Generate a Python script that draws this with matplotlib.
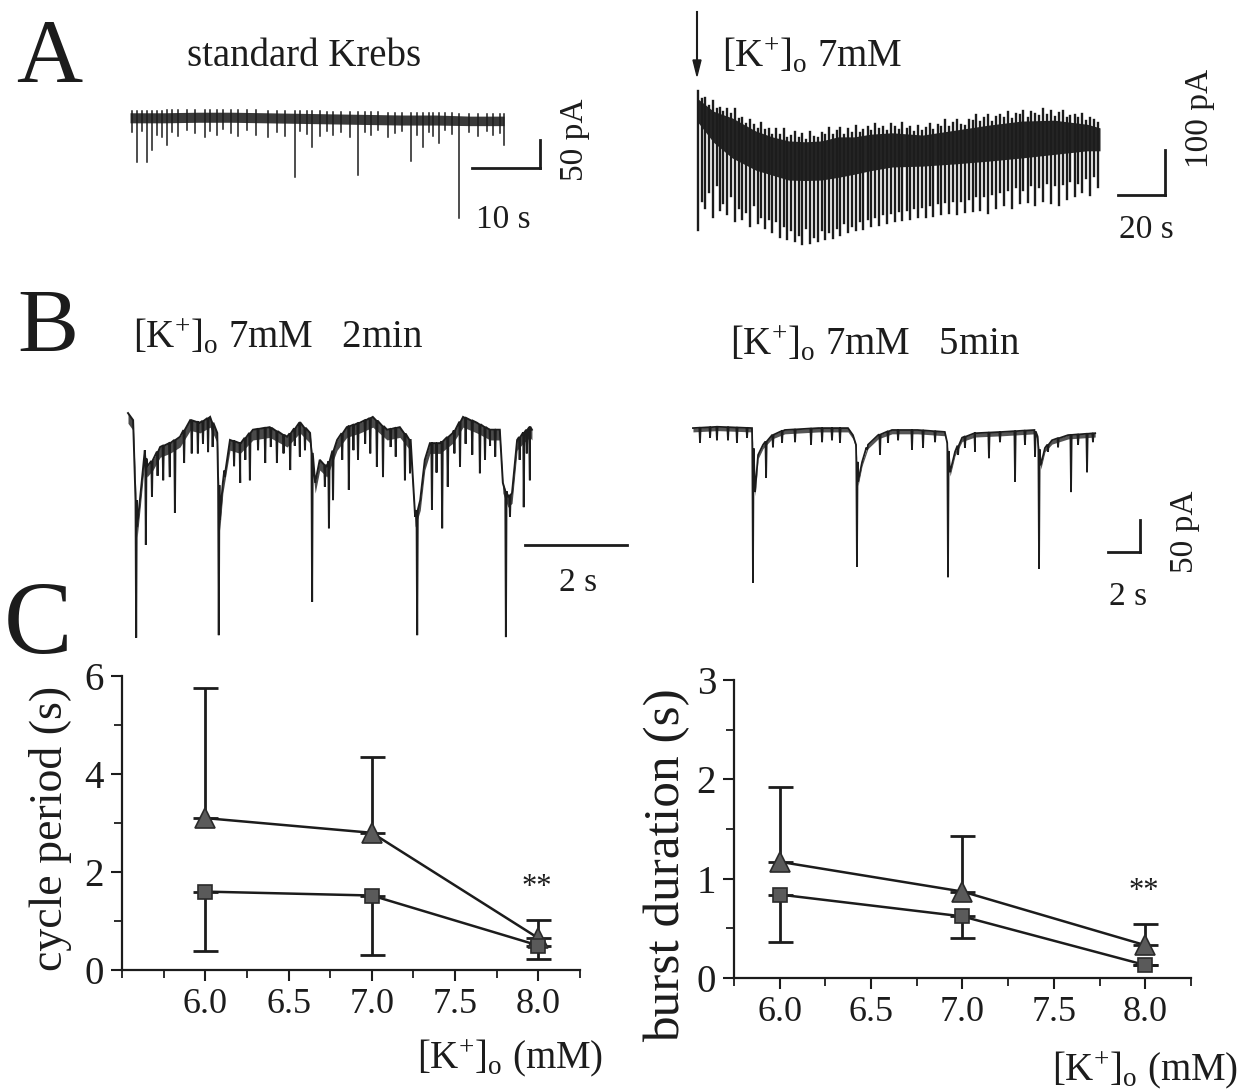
import numpy as np
import matplotlib.pyplot as plt
from matplotlib.ticker import MultipleLocator

plt.rcParams['font.family'] = ['Liberation Serif', 'DejaVu Serif']
plt.rcParams['mathtext.fontset'] = 'custom'
plt.rcParams['mathtext.rm'] = 'Liberation Serif'
plt.rcParams['mathtext.it'] = 'Liberation Serif:italic'

W, H = 1254, 1092
INK = '#1c1c1c'

# ---------------- data ----------------
# A left, standard Krebs: time (s), current (pA)
al_t = [0, 5, 10, 15, 20, 25, 30, 35, 40, 45, 50, 55]
al_top = [4, 4, 5, 5, 4, 3, 2, 1, 0, 0, -2, -2]
al_bot = [-14, -14, -13, -13, -14, -15, -16, -17, -18, -18, -19, -19]
al_ev_t = [0.25, 1.0, 1.72, 2.5, 3.2, 3.92, 4.66, 5.4, 6.13, 7.11, 8.33, 9.56, 11.0,
           11.8, 12.75, 13.7, 14.9, 15.9, 17.2, 18.6, 20.3, 21.6, 22.8, 24.3, 25.0,
           26.0, 26.8, 27.9, 28.9, 29.9, 31.1, 32.4, 33.5, 34.6, 35.5, 36.5, 38.0,
           39.0, 40.0, 41.3, 42.2, 43.1, 43.9, 44.6, 45.4, 46.3, 47.3, 48.4, 49.8,
           51.2, 52.5, 53.4, 54.4, 55.0]
al_ev_d = [-30, -84, -28, -84, -63, -35, -40, -54, -30, -38, -26, -33, -40,
           -28, -36, -25, -32, -38, -27, -35, -40, -30, -37, -111, -29,
           -34, -57, -38, -28, -35, -31, -40, -107, -30, -36, -26, -39,
           -33, -28, -82, -36, -57, -30, -38, -50, -27, -34, -184, -31,
           -37, -29, -35, -33, -54]

# A right, [K+]o 7 mM: slow band envelope and fast events
ar_t = [0, 7, 15, 25, 32, 39, 46, 53, 60, 67, 74, 83, 96, 110, 124, 138, 152, 166, 171.5]
ar_top = [-7, -36, -51, -80, -93, -102, -104, -102, -93, -93, -87, -84, -89, -78, -67,
          -58, -56, -65, -73]
ar_bot = [-58, -105, -140, -167, -178, -189, -190, -189, -183, -176, -168, -160, -158,
          -153, -147, -140, -132, -124, -124]
ar_ev_t = [0.6, 2.1, 3.5, 5.2, 6.6, 8.3, 9.9,
           11.2, 12.8, 14.6, 16.0, 17.9, 19.3,
           21.0, 22.4, 24.1, 25.9, 27.2, 28.8,
           30.5, 32.1, 33.6, 35.4, 36.9, 38.3,
           40.1, 41.6, 43.4, 44.8, 46.5, 48.2, 49.6,
           51.3, 53.0, 54.4, 56.2, 57.7, 59.5,
           61.0, 62.6, 64.4, 65.9, 67.5, 69.3,
           70.8, 72.6, 74.1, 75.8, 77.6, 79.1,
           80.9, 82.4, 84.1, 85.9, 87.4, 89.2,
           90.7, 92.5, 94.0, 95.8, 97.3, 99.1,
           100.6, 102.4, 103.9, 105.7, 107.2, 109.0,
           110.6, 112.3, 113.9, 115.6, 117.3, 118.9,
           120.6, 122.3, 123.9, 125.7, 127.2, 129.0,
           130.6, 132.3, 133.9, 135.6, 137.3, 138.9,
           140.7, 142.2, 144.0, 145.6, 147.3, 148.9,
           150.7, 152.2, 154.0, 155.6, 157.3, 158.9,
           160.7, 162.2, 164.0, 165.5, 167.3, 168.8, 170.6]
ar_ev_d = [-300, -235, -250, -215, -270, -200, -255,
           -240, -265, -225, -280, -250, -275,
           -260, -290, -245, -285, -270, -295,
           -275, -305, -280, -315, -290, -320,
           -300, -325, -310, -330, -295, -328, -315,
           -325, -300, -320, -305, -318, -295,
           -310, -285, -305, -290, -300, -280,
           -298, -275, -292, -270, -288, -265,
           -285, -262, -280, -258, -278, -255,
           -275, -250, -272, -248, -270, -245,
           -268, -240, -265, -238, -262, -235,
           -265, -235, -260, -230, -258, -225,
           -255, -225, -262, -220, -250, -215,
           -245, -212, -250, -205, -240, -210,
           -238, -200, -245, -205, -235, -195,
           -240, -200, -245, -198, -230, -192,
           -225, -195, -215, -185, -222, -180, -205]
# upward noise peaks above the band (pA above its upper edge)
ar_peak = [18, 6, 14, 4, 20, 8, 12,
           5, 16, 9, 22, 6, 13,
           4, 18, 10, 7, 21, 9,
           15, 5, 19, 8, 24, 6,
           12, 20, 7, 16, 4, 22, 10,
           6, 18, 11, 25, 8, 14,
           20, 5, 17, 9, 23, 7,
           12, 18, 6, 21, 10, 15,
           5, 19, 13, 8, 24, 11,
           16, 6, 20, 9, 14, 22,
           7, 18, 12, 25, 8, 16,
           21, 10, 6, 19, 14, 26,
           9, 17, 23, 7, 15, 20,
           11, 24, 8, 18, 13, 22,
           6, 19, 15, 10, 25, 12,
           20, 7, 17, 23, 9, 14,
           18, 11, 22, 8, 16, 13, 10]

# B left, 2 min in 7 mM
bl_t = [0, 0.10, 0.18, 0.24, 0.33, 0.37, 0.49, 0.63, 0.82, 1.02, 1.22, 1.41, 1.61, 1.75,
        1.80, 1.86, 2.00, 2.20, 2.45, 2.78, 3.12, 3.37, 3.57,
        3.67, 3.76, 3.90, 4.10, 4.29, 4.55, 4.80, 5.08, 5.33, 5.53, 5.63,
        5.73, 5.82, 5.92, 6.12, 6.37, 6.57, 6.84, 7.10, 7.29, 7.35,
        7.45, 7.53, 7.63, 7.75, 7.88, 7.92]
bl_v = [3, -8, -175, -128, -55, -81, -70, -50, -44, -34, -8, -12, -3, -28,
        -164, -106, -39, -44, -23, -19, -34, -12, -28,
        -106, -70, -81, -39, -19, -12, -3, -23, -19, -39, -159,
        -133, -70, -44, -44, -28, -3, -12, -23, -23, -106,
        -128, -122, -39, -28, -19, -23]
bl_ev_t = [0.16, 0.35, 0.47, 0.58, 0.69, 0.82, 0.92, 1.10, 1.25, 1.37, 1.47, 1.57, 1.66,
           1.78, 1.90, 2.08, 2.20, 2.30, 2.39, 2.55, 2.69, 2.80, 2.92, 3.05, 3.18,
           3.27, 3.37, 3.47, 3.61, 3.86, 3.94, 4.02, 4.20, 4.33, 4.42, 4.51, 4.65,
           4.75, 4.88, 5.00, 5.15, 5.25, 5.43, 5.53, 5.67, 5.96, 6.05, 6.16, 6.27,
           6.40, 6.51, 6.62, 6.75, 6.90, 7.00, 7.10, 7.20, 7.41, 7.49, 7.68, 7.76,
           7.82, 7.88]
bl_ev_d = [-348, -203, -128, -95, -102, -97, -153, -75, -60, -60, -45, -58, -50,
           -344, -97, -80, -106, -70, -102, -55, -75, -50, -75, -60, -86,
           -48, -65, -55, -292, -112, -177, -133, -70, -117, -55, -70, -45,
           -60, -81, -97, -50, -65, -102, -91, -344, -148, -90, -177, -112,
           -60, -81, -45, -62, -91, -70, -48, -65, -347, -159, -70, -144,
           -60, -102]

# B right, 5 min in 7 mM
br_t = [0.06, 1.6, 3.75, 3.94, 4.13, 4.44, 5.0, 5.8, 7.9, 9.75, 10.06, 10.25,
        10.38, 10.63, 11.0, 11.63, 12.5, 14.1, 15.8, 15.95,
        16.13, 16.44, 16.88, 17.69, 19.4, 21.4, 21.6,
        21.8, 22.06, 22.5, 23.5, 25.2]
br_v = [3, 5, 3, -97, -39, -23, -8, 0, 3, 3, -8, -23,
        -81, -50, -23, -8, 0, 0, -3, -20,
        -66, -34, -12, -5, -3, 0, -10,
        -55, -28, -16, -8, -5]
br_ev_t = [0.5, 1.13, 1.56, 2.25, 2.81, 3.44, 3.81, 4.63, 5.06, 5.63, 6.44, 7.44, 8.13,
           8.75, 9.25, 10.31, 10.94, 11.75, 12.25, 12.88, 13.75, 14.44, 15.19, 16.0,
           16.63, 17.06, 17.69, 18.56, 19.25, 20.19, 20.81, 21.44, 21.69, 22.25, 22.88,
           23.69, 24.13, 24.69, 25.06]
br_ev_d = [-20, -12, -16, -16, -20, -12, -239, -75, -27, -20, -19, -23, -19,
           -16, -20, -214, -31, -39, -20, -16, -31, -28, -19, -230,
           -39, -28, -34, -44, -19, -81, -23, -42, -217, -34, -27,
           -97, -23, -66, -19]

# C: mean +/- SD, one-sided bars (triangles up, squares down)
k_conc = [6.0, 7.0, 8.0]
cycle_tri = [3.1, 2.8, 0.65]
cycle_tri_top = [5.75, 4.35, 1.03]
cycle_sq = [1.6, 1.52, 0.5]
cycle_sq_bot = [0.38, 0.3, 0.22]
burst_tri = [1.17, 0.87, 0.33]
burst_tri_top = [1.92, 1.43, 0.54]
burst_sq = [0.84, 0.62, 0.13]
burst_sq_bot = [0.36, 0.40, 0.13]

# ---------------- helpers ----------------
fig = plt.figure(figsize=(12.54, 10.92), dpi=100)


def fx(x):
    return x / W


def fy(y):
    return 1 - y / H


def text(x, y, s, size, **kw):
    kw.setdefault('ha', 'center')
    kw.setdefault('va', 'center')
    fig.text(fx(x), fy(y), s, fontsize=size, color=INK, **kw)


def trace_axes(box, t0px, px_s, y0px, px_pA):
    x0, y0, x1, y1 = box
    ax = fig.add_axes([fx(x0), fy(y1), (x1 - x0) / W, (y1 - y0) / H])
    ax.set_xlim((x0 - t0px) / px_s, (x1 - t0px) / px_s)
    ax.set_ylim(-(y1 - y0px) / px_pA, -(y0 - y0px) / px_pA)
    ax.axis('off')
    return ax


def trace_line(ax, env_t, env_v, ev_t, ev_d, lw, dt):
    pts = list(zip(env_t, env_v))
    for t, d in zip(ev_t, ev_d):
        base = float(np.interp(t, env_t, env_v))
        pts += [(t - dt, base), (t, d), (t + dt, base)]
    pts.sort()
    xs, ys = zip(*pts)
    ax.plot(xs, ys, color=INK, lw=lw, solid_joinstyle='miter')


def scale_bar(ax, x, y, dx, dy):
    ax.plot([x, x + dx], [y, y], color=INK, lw=2, clip_on=False)
    if dy:
        ax.plot([x + dx, x + dx], [y, y + dy], color=INK, lw=2, clip_on=False)


K_O = r'[K$^{+}$]$_{\rm o}$'

# ---------------- panel A ----------------
text(49, 60, 'A', 66)
text(187, 57, 'standard Krebs', 28, ha='left')
ax = trace_axes((125, 95, 560, 240), 130, 6.8, 115, 0.56)
ax.fill_between(al_t, al_top, al_bot, color='#3a3a3a', lw=0)
for t, d in zip(al_ev_t, al_ev_d):
    ax.plot([t, t], [np.interp(t, al_t, al_top) + 4, d], color=INK, lw=1.1)
scale_bar(ax, 50.3, -94.6, 10, 50)
text(575, 140, '50 pA', 24, rotation=90)
text(503, 220, '10 s', 24)

fig.add_artist(plt.Line2D([fx(697), fx(697)], [fy(12), fy(60)], color=INK, lw=1.5))
fig.patches.append(plt.Polygon([[fx(693), fy(60)], [fx(701), fy(60)], [fx(697), fy(76)]],
                               closed=True, color=INK, transform=fig.transFigure))
text(722, 57, K_O + ' 7mM', 28, ha='left')
ax = trace_axes((690, 85, 1180, 255), 697, 2.35, 95, 0.45)
ax.fill_between(ar_t, ar_top, ar_bot, color='#262626', lw=0)
for t, d, p in zip(ar_ev_t, ar_ev_d, ar_peak):
    ax.plot([t, t], [np.interp(t, ar_t, ar_top) + p, d], color=INK, lw=1.7)
scale_bar(ax, 179.1, -222, 20, 100)
text(1200, 118, '100 pA', 24, rotation=90)
text(1146, 230, '20 s', 24)

# ---------------- panel B ----------------
text(48, 330, 'B', 66)
text(133, 338, K_O + ' 7mM   2min', 28, ha='left')
text(730, 345, K_O + ' 7mM   5min', 28, ha='left')

ax = trace_axes((120, 400, 640, 650), 128, 51, 415, 0.64)
ax.fill_between(bl_t, bl_v, np.array(bl_v) - 16, color='#4a4a4a', lw=0)
trace_line(ax, bl_t, bl_v, bl_ev_t, bl_ev_d, 1.4, 0.012)
scale_bar(ax, 7.78, -203, 2, 0)
text(578, 583, '2 s', 24)

ax = trace_axes((685, 415, 1150, 600), 692, 16, 430, 0.64)
ax.fill_between(br_t, br_v, np.array(br_v) - 6, color='#555555', lw=0)
trace_line(ax, br_t, br_v, br_ev_t, br_ev_d, 1.3, 0.04)
scale_bar(ax, 26, -191, 2, 50)
text(1185, 532, '50 pA', 24, rotation=90)
text(1128, 597, '2 s', 24)

# ---------------- panel C ----------------
text(38, 628, 'C', 74)


def summary(box, xlim, ylim, ymaj, ymin, tri, tri_top, sq, sq_bot):
    x0, y0, x1, y1 = box
    ax = fig.add_axes([fx(x0), fy(y1), (x1 - x0) / W, (y1 - y0) / H])
    tri = np.array(tri)
    sq = np.array(sq)
    zero = np.zeros(3)
    ax.errorbar(k_conc, tri, yerr=[zero, np.array(tri_top) - tri], fmt='none',
                ecolor=INK, elinewidth=2, capsize=9, capthick=2, zorder=2)
    ax.errorbar(k_conc, sq, yerr=[sq - np.array(sq_bot), zero], fmt='none',
                ecolor=INK, elinewidth=2, capsize=9, capthick=2, zorder=2)
    ax.plot(k_conc, tri, '-', color=INK, lw=1.8, marker='^', ms=15,
            mfc='#5a5a5a', mec='#2a2a2a', mew=1.2, zorder=3)
    ax.plot(k_conc, sq, '-', color=INK, lw=1.8, marker='s', ms=10,
            mfc='#5a5a5a', mec='#2a2a2a', mew=1.2, zorder=3)
    ax.set_xlim(*xlim)
    ax.set_ylim(*ylim)
    ax.xaxis.set_minor_locator(MultipleLocator(0.25))
    ax.yaxis.set_major_locator(MultipleLocator(ymaj))
    ax.yaxis.set_minor_locator(MultipleLocator(ymin))
    ax.set_xticks([6.0, 6.5, 7.0, 7.5, 8.0])
    ax.set_xticklabels(['6.0', '6.5', '7.0', '7.5', '8.0'])
    for s in ('top', 'right'):
        ax.spines[s].set_visible(False)
    for s in ('left', 'bottom'):
        ax.spines[s].set_linewidth(1.6)
        ax.spines[s].set_color(INK)
    ax.tick_params(which='major', direction='out', length=8, width=1.5,
                   labelsize=26, colors=INK, pad=5)
    ax.tick_params(which='minor', direction='out', length=6, width=1.3, colors=INK)
    ax.tick_params(axis='y', labelsize=28)
    ax.patch.set_alpha(0)
    return ax


summary((122, 676, 580, 970), (5.5, 8.25), (0, 6), 2, 1,
        cycle_tri, cycle_tri_top, cycle_sq, cycle_sq_bot)
text(50, 828, 'cycle period (s)', 33, rotation=90)
text(537, 888, '**', 22)
text(510, 1058, K_O + ' (mM)', 28)

summary((734, 680, 1191, 978), (5.75, 8.25), (0, 3), 1, 0.5,
        burst_tri, burst_tri_top, burst_sq, burst_sq_bot)
text(667, 865, 'burst duration (s)', 37, rotation=90)
text(1144, 892, '**', 22)
text(1145, 1070, K_O + ' (mM)', 28)

fig.savefig('out.png', dpi=100, facecolor='white')
